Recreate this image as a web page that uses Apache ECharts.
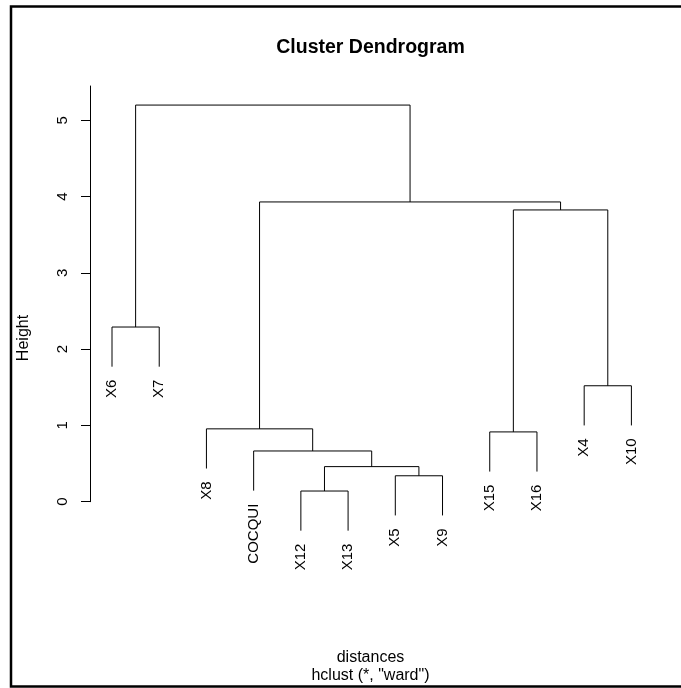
<!DOCTYPE html>
<html>
<head>
<meta charset="utf-8">
<script src="https://cdn.jsdelivr.net/npm/echarts@6/dist/echarts.min.js"></script>
<style>html,body{margin:0;padding:0;background:#fff}#c{width:681px;height:688px}</style>
</head>
<body>
<div id="c"></div>
<script>
// Leaf labels in display order
var leaves = ['X6','X7','X8','COCQUI','X12','X13','X5','X9','X15','X16','X4','X10'];
// Merges (hclust order): children are leaf names or 'm<k>' (1-based earlier merge)
var mergeLeft   = ['X12','X5','m1','COCQUI','X15','X8','X4','X6','m5','m6','m8'];
var mergeRight  = ['X13','X9','m2','m3',    'X16','m4','X10','X7','m7','m9','m10'];
var mergeHeight = [0.14, 0.34, 0.46, 0.665, 0.915, 0.955, 1.52, 2.29, 3.825, 3.93, 5.20];
var yTicks = [0, 1, 2, 3, 4, 5];

var FONT = '"Liberation Sans", Arial, sans-serif';
var maxH = Math.max.apply(null, mergeHeight);
var hang = 0.1 * maxH; // R's default hang

var mx = [];
function isMerge(id) { return /^m\d+$/.test(id); }
function nodeX(id) {
  if (isMerge(id)) return mx[parseInt(id.slice(1), 10) - 1];
  return leaves.indexOf(id);
}
var segData = [];
var leafData = [];
for (var i = 0; i < mergeHeight.length; i++) {
  var h = mergeHeight[i];
  var a = mergeLeft[i], b = mergeRight[i];
  var xa = nodeX(a), xb = nodeX(b);
  var ya = isMerge(a) ? mergeHeight[parseInt(a.slice(1), 10) - 1] : h - hang;
  var yb = isMerge(b) ? mergeHeight[parseInt(b.slice(1), 10) - 1] : h - hang;
  if (!isMerge(a)) leafData.push([xa, h - hang, a]);
  if (!isMerge(b)) leafData.push([xb, h - hang, b]);
  mx.push((xa + xb) / 2);
  segData.push([xa, ya, xb, yb, h]);
}

var chart = echarts.init(document.getElementById('c'), null, {renderer: 'canvas'});
chart.setOption({
  animation: false,
  backgroundColor: '#fff',
  grid: {left: 90, right: 26, top: 86, bottom: 186.3, containLabel: false},
  xAxis: {type: 'value', min: -0.466, max: 11.5, show: false},
  yAxis: {
    type: 'value', min: 0, max: 5.45, interval: 1,
    axisLine: {show: true, onZero: false, lineStyle: {color: '#000', width: 1}},
    axisTick: {show: true, length: 9, customValues: yTicks, lineStyle: {color: '#000'}},
    axisLabel: {show: true, customValues: yTicks, rotate: 90, margin: 20, fontSize: 15, color: '#000', fontFamily: FONT},
    splitLine: {show: false}
  },
  graphic: [
    {type: 'rect', shape: {x: 11, y: 6.5, width: 700, height: 680}, style: {fill: 'none', stroke: '#000', lineWidth: 2.5}, silent: true},
    {type: 'text', x: 370.5, y: 48, style: {text: 'Cluster Dendrogram', font: 'bold 19.5px ' + FONT, fill: '#000', textAlign: 'center', textVerticalAlign: 'middle'}},
    {type: 'text', x: 24, y: 338, rotation: Math.PI / 2, style: {text: 'Height', font: '16px ' + FONT, fill: '#000', textAlign: 'center', textVerticalAlign: 'middle'}},
    {type: 'text', x: 370.5, y: 658, style: {text: 'distances', font: '16px ' + FONT, fill: '#000', textAlign: 'center', textVerticalAlign: 'middle'}},
    {type: 'text', x: 370.5, y: 676, style: {text: 'hclust (*, "ward")', font: '16px ' + FONT, fill: '#000', textAlign: 'center', textVerticalAlign: 'middle'}}
  ],
  series: [
    {
      type: 'custom', clip: false, silent: true,
      data: segData,
      renderItem: function (params, api) {
        var p1 = api.coord([api.value(0), api.value(1)]);
        var p2 = api.coord([api.value(0), api.value(4)]);
        var p3 = api.coord([api.value(2), api.value(4)]);
        var p4 = api.coord([api.value(2), api.value(3)]);
        return {type: 'polyline', shape: {points: [p1, p2, p3, p4]}, style: {stroke: '#000', lineWidth: 1, fill: 'none'}};
      }
    },
    {
      type: 'custom', clip: false, silent: true,
      data: leafData,
      renderItem: function (params, api) {
        var p = api.coord([api.value(0), api.value(1)]);
        return {type: 'text', x: p[0], y: p[1] + 13, rotation: Math.PI / 2,
          style: {text: leafData[params.dataIndex][2], font: '15px ' + FONT, fill: '#000', textAlign: 'right', textVerticalAlign: 'middle'}};
      }
    }
  ]
});
</script>
</body>
</html>
